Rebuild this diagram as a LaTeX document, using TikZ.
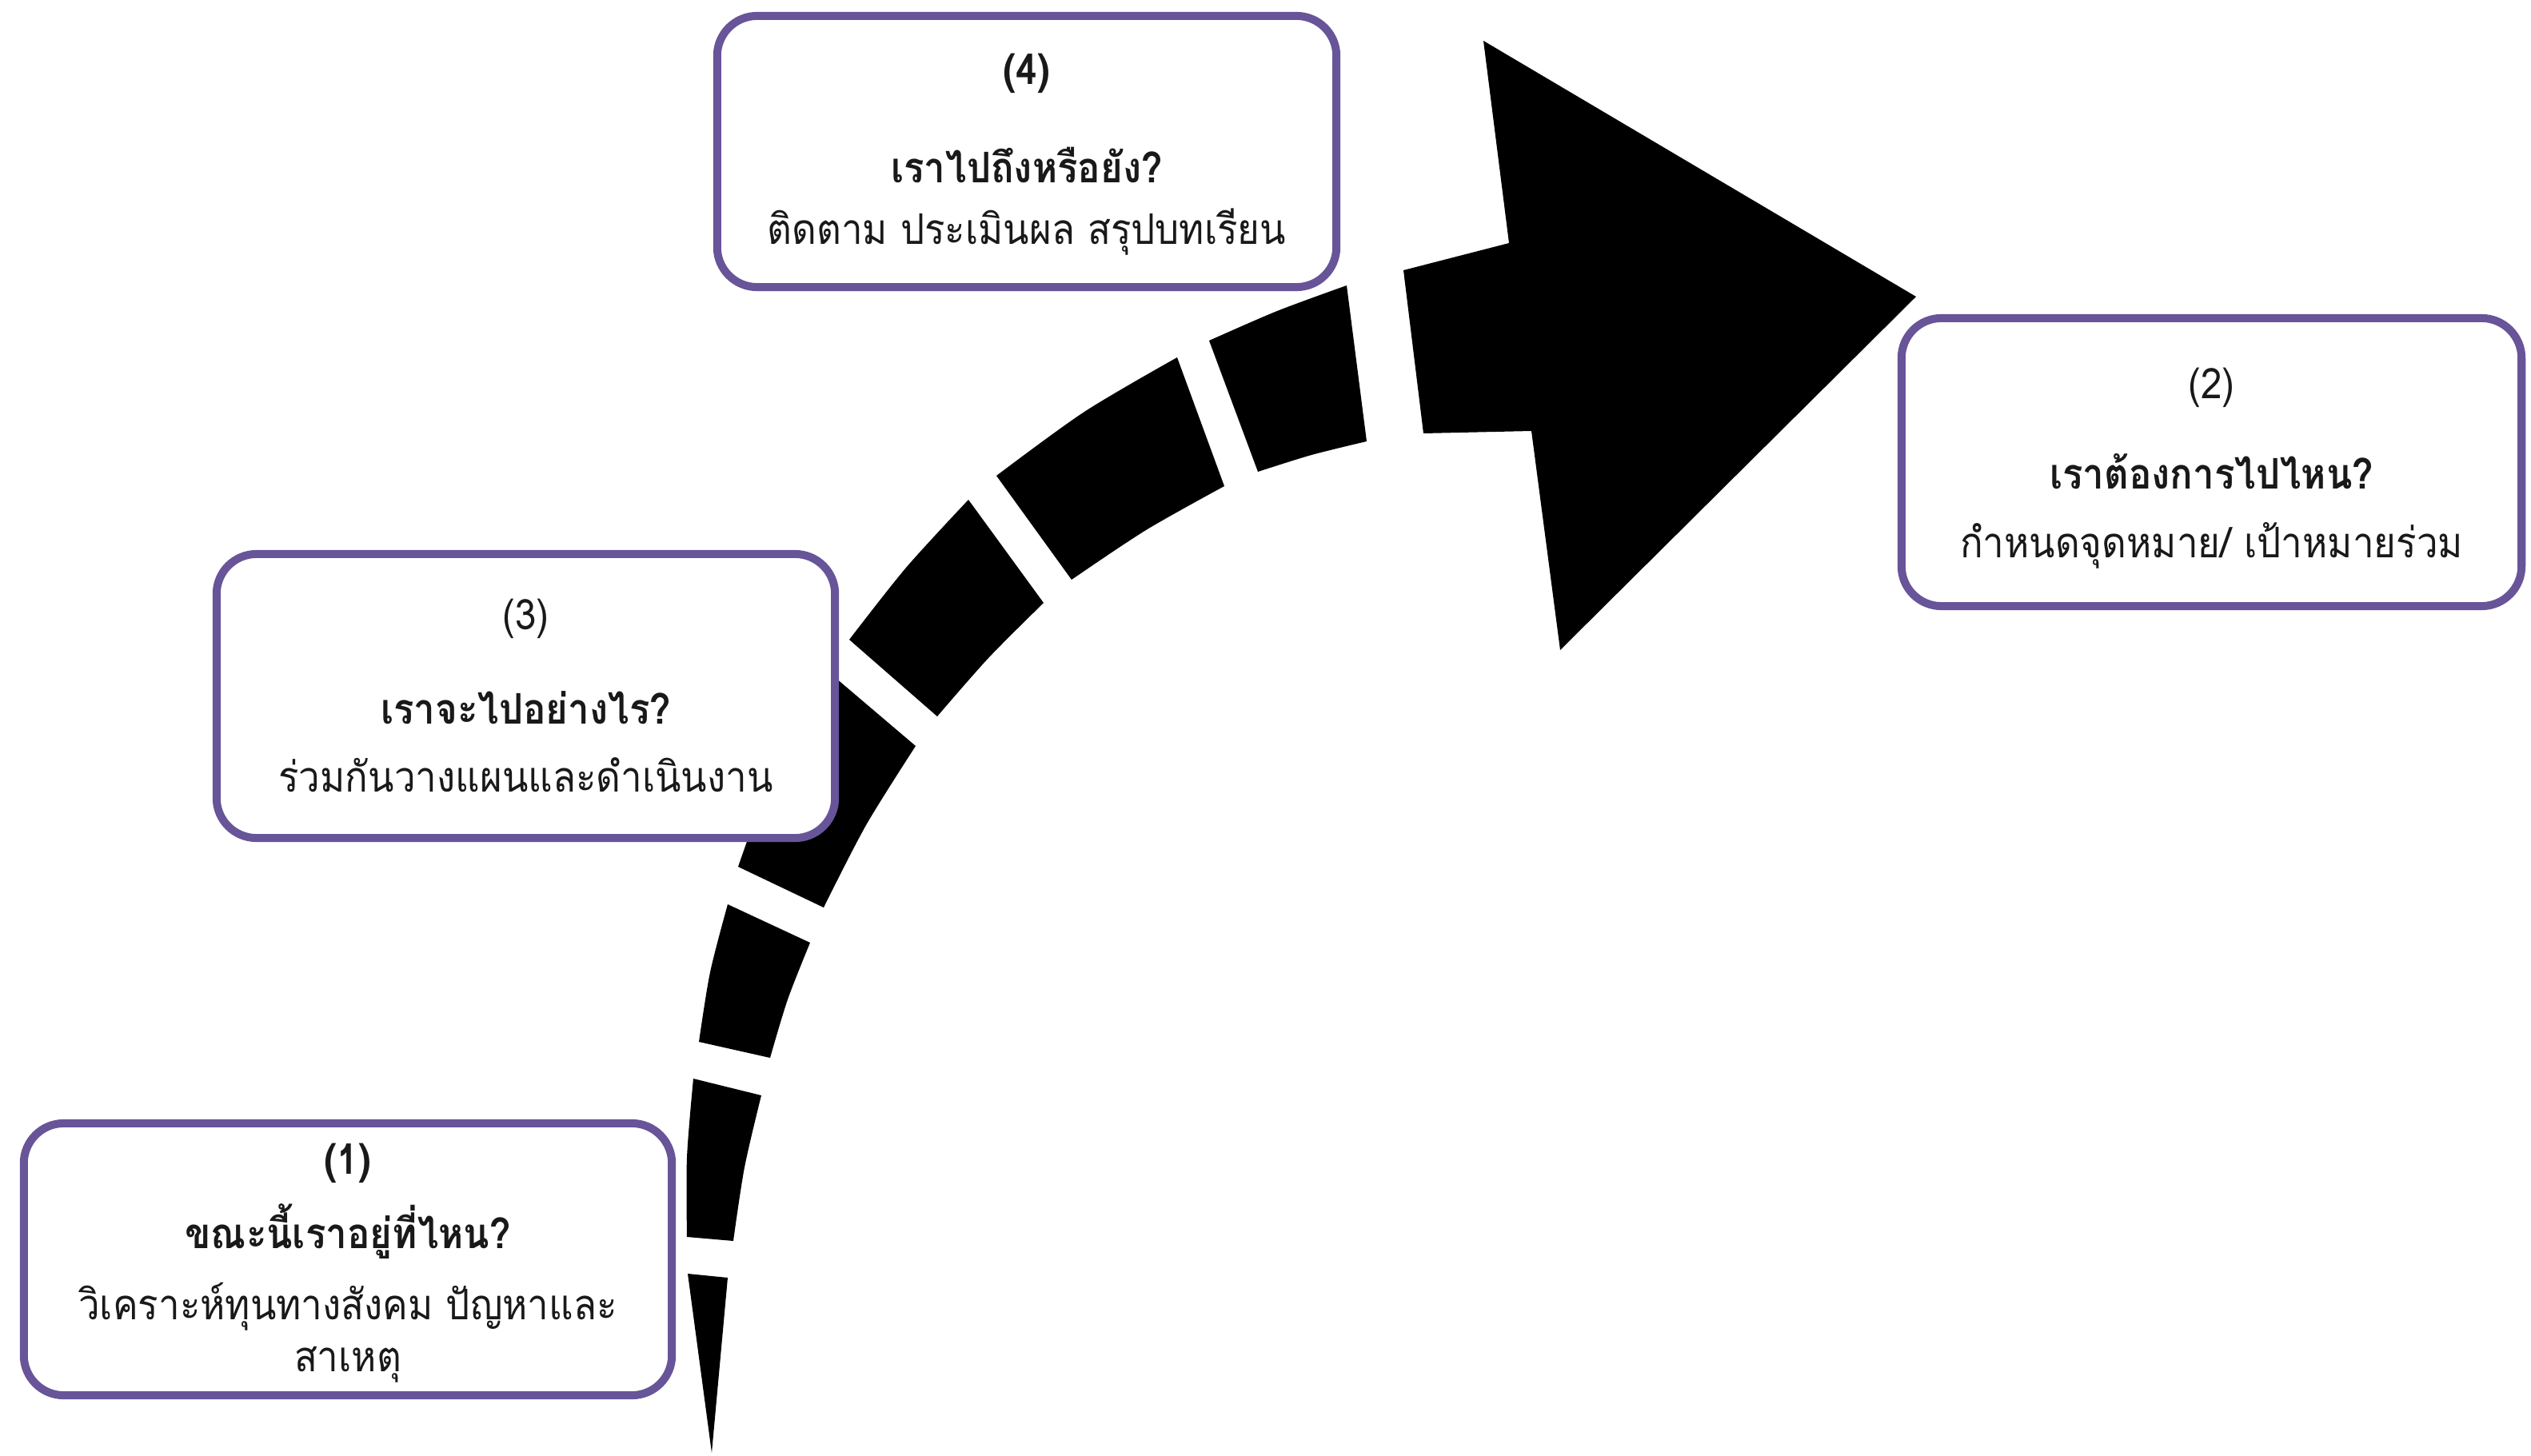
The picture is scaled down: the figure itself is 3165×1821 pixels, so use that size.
\documentclass[tikz,border=0pt]{standalone}
\usepackage{fontspec}
\newfontfamily\thaifont[Script=Thai,FakeStretch=0.9]{Loma}
\usetikzlibrary{calc}
\definecolor{boxpurple}{RGB}{104,84,152}
\definecolor{txtcol}{RGB}{25,25,25}
\begin{document}
\begin{tikzpicture}[x=0.01cm,y=-0.01cm,
  infobox/.style={draw=boxpurple, line width=0.1cm, rounded corners=0.5cm, fill=white, inner sep=0pt},
  plaintxt/.style={font=\thaifont\fontsize{15}{18}\selectfont, text=txtcol, anchor=base, inner sep=0pt},
  boldtxt/.style={font=\thaifont\bfseries\fontsize{15}{18}\selectfont, text=txtcol, anchor=base, inner sep=0pt},
  seg/.style={fill=black}]
\useasboundingbox (0,0) rectangle (3165,1821);
\fill[white] (0,0) rectangle (3165,1821);

% dashed curved arrow
\fill[seg] (860,1593) -- (910,1598) -- (890,1817) -- cycle;
\fill[seg] plot[smooth] coordinates {(859,1547) (859,1448) (867,1349)} -- plot[smooth] coordinates {(952,1370) (931,1460) (917,1552)} -- cycle;
\fill[seg] plot[smooth] coordinates {(874,1303) (888,1216) (910,1131)} -- plot[smooth] coordinates {(1013,1179) (985,1250) (963,1323)} -- cycle;
\fill[seg] plot[smooth] coordinates {(923,1084) (970,960) (1038,842)} -- plot[smooth] coordinates {(1145,933) (1083,1032) (1030,1135)} -- cycle;
\fill[seg] plot[smooth] coordinates {(1062,800) (1133,710) (1211,625)} -- plot[smooth] coordinates {(1305,754) (1236,823) (1172,896)} -- cycle;
\fill[seg] plot[smooth] coordinates {(1246,595) (1356,515) (1472,447)} -- plot[smooth] coordinates {(1531,608) (1433,663) (1340,725)} -- cycle;
\fill[seg] plot[smooth] coordinates {(1512,426) (1597,389) (1684,357)} -- plot[smooth] coordinates {(1709,552) (1640,569) (1573,590)} -- cycle;
\fill[seg] (1755,338) -- (1887,304) -- (1855,51) -- (2396,371) -- (1951,813) -- (1915,539) -- (1780,542) -- cycle;

% boxes
\node[infobox, minimum width=7.74cm, minimum height=3.39cm] (b4) at (1284,189.5) {};
\node[infobox, minimum width=7.73cm, minimum height=3.55cm] (b3) at (657.5,870.5) {};
\node[infobox, minimum width=8.10cm, minimum height=3.40cm] (b1) at (435,1575) {};
\node[infobox, minimum width=7.75cm, minimum height=3.60cm] (b2) at (2765.5,578) {};

% texts box 4
\node[boldtxt] (n4) at (1284,105) {(4)};
\node[boldtxt] (q4) at (1284,228) {เราไปถึงหรือยัง?};
\node[plaintxt] (d4) at (1284,305) {ติดตาม ประเมินผล สรุปบทเรียน};
% box 3
\node[plaintxt] (n3) at (657.5,787) {(3)};
\node[boldtxt] (q3) at (657.5,905) {เราจะไปอย่างไร?};
\node[plaintxt] (d3) at (657.5,990) {ร่วมกันวางแผนและดำเนินงาน};
% box 1
\node[boldtxt] (n1) at (435,1468) {(1)};
\node[boldtxt] (q1) at (435,1561) {ขณะนี้เราอยู่ที่ไหน?};
\node[plaintxt] (d1a) at (435,1650) {วิเคราะห์ทุนทางสังคม ปัญหาและ};
\node[plaintxt] (d1b) at (435,1715) {สาเหตุ};
% box 2
\node[plaintxt] (n2) at (2765.5,498) {(2)};
\node[boldtxt] (q2) at (2765.5,611) {เราต้องการไปไหน?};
\node[plaintxt] (d2) at (2765.5,697) {กำหนดจุดหมาย/ เป้าหมายร่วม};
\end{tikzpicture}
\end{document}
